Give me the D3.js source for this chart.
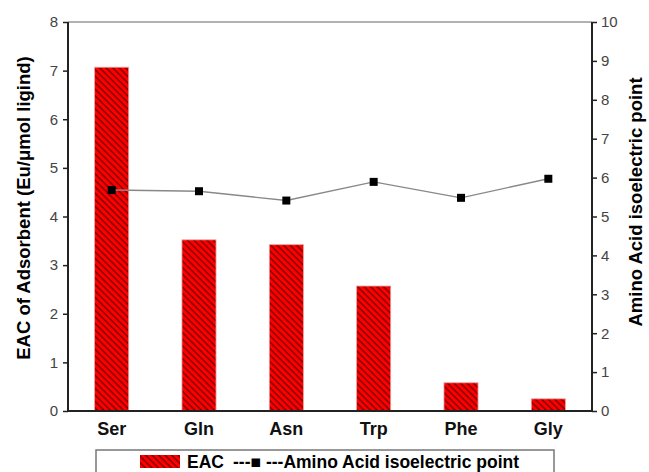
<!DOCTYPE html>
<html>
<head>
<meta charset="utf-8">
<script src="https://cdn.jsdelivr.net/npm/d3@7"></script>
<style>
  body { margin: 0; background: #fff; }
  svg { font-family: "Liberation Sans", Arial, sans-serif; }
</style>
</head>
<body>
<div class="chart"></div>
<script>
const categories = ['Ser', 'Gln', 'Asn', 'Trp', 'Phe', 'Gly'];
const eacValues = [7.07, 3.52, 3.42, 2.57, 0.58, 0.25];
const pIValues = [5.68, 5.65, 5.41, 5.89, 5.48, 5.97];
const leftTicks = [0, 1, 2, 3, 4, 5, 6, 7, 8];
const rightTicks = [0, 1, 2, 3, 4, 5, 6, 7, 8, 9, 10];

const width = 649, height = 472;
const m = { left: 68, right: 57, top: 22, bottom: 61 };
const w = width - m.left - m.right;
const h = height - m.top - m.bottom;

const svg = d3.select('.chart').append('svg')
    .attr('width', width)
    .attr('height', height);

// hatch fill for bars
const defs = svg.append('defs');
const pat = defs.append('pattern')
    .attr('id', 'hatch')
    .attr('patternUnits', 'userSpaceOnUse')
    .attr('width', 4.6).attr('height', 4.6)
    .attr('patternTransform', 'rotate(45)');
pat.append('rect').attr('width', 4.6).attr('height', 4.6).attr('fill', '#ff0000');
pat.append('line').attr('x1', 0).attr('y1', 0.8).attr('x2', 4.6).attr('y2', 0.8)
    .attr('stroke', '#400000').attr('stroke-width', 1.0);

const chart = svg.append('g').attr('transform', `translate(${m.left},${m.top})`);

const x = d3.scaleBand().domain(categories).range([0, w])
    .paddingInner(0.61).paddingOuter(0.305);
const yL = d3.scaleLinear().domain([0, 8]).range([h, 0]);
const yR = d3.scaleLinear().domain([0, 10]).range([h, 0]);

// top frame line
chart.append('line').attr('x1', 0).attr('x2', w).attr('y1', 0).attr('y2', 0)
    .attr('stroke', '#999').attr('stroke-width', 1.5);

/* bars */
chart.selectAll('.bar')
    .data(eacValues)
    .enter().append('rect')
    .attr('class', 'bar')
    .attr('x', (d, i) => x(categories[i]))
    .attr('y', d => yL(d))
    .attr('width', x.bandwidth())
    .attr('height', d => h - yL(d))
    .attr('fill', 'url(#hatch)')
    .attr('stroke', '#e8a0a0')
    .attr('stroke-width', 0.8);

/* pI line */
const line = d3.line()
    .x((d, i) => x(categories[i]) + x.bandwidth() / 2)
    .y(d => yR(d));
chart.append('path').datum(pIValues)
    .attr('d', line)
    .attr('fill', 'none')
    .attr('stroke', '#888')
    .attr('stroke-width', 1.4);
chart.selectAll('.pt')
    .data(pIValues)
    .enter().append('rect')
    .attr('class', 'pt')
    .attr('x', (d, i) => x(categories[i]) + x.bandwidth() / 2 - 4)
    .attr('y', d => yR(d) - 4)
    .attr('width', 8).attr('height', 8)
    .attr('fill', '#000');

/* axes */
const axL = chart.append('g')
    .call(d3.axisLeft(yL).tickValues(leftTicks).tickSize(5).tickPadding(5));
const axR = chart.append('g').attr('transform', `translate(${w},0)`)
    .call(d3.axisRight(yR).tickValues(rightTicks).tickSize(5).tickPadding(4));
const axB = chart.append('g').attr('transform', `translate(0,${h})`)
    .call(d3.axisBottom(x).tickSize(0).tickPadding(11));
[axL, axR, axB].forEach(a => {
    a.attr('font-family', null);
    a.select('.domain').attr('stroke', '#222').attr('stroke-width', 2);
    a.selectAll('.tick line').attr('stroke', '#222').attr('stroke-width', 1.5);
});
axL.selectAll('.tick text').style('font-size', '15px').style('fill', '#444');
axR.selectAll('.tick text').style('font-size', '15px').style('fill', '#444');
axB.select('.domain').attr('d', `M0,0H${w}`);
axL.select('.domain').attr('d', `M0,${h}V0`);
axR.select('.domain').attr('d', `M0,${h}V0`);
axB.selectAll('.tick text')
    .style('font-size', '18px').style('font-weight', 'bold').style('fill', '#111');

/* axis titles */
svg.append('text')
    .attr('transform', 'translate(30,208) rotate(-90)')
    .attr('text-anchor', 'middle')
    .style('font-size', '18.5px').style('font-weight', 'bold')
    .text('EAC of Adsorbent (Eu/μmol ligind)');
svg.append('text')
    .attr('transform', 'translate(642,202) rotate(-90)')
    .attr('text-anchor', 'middle')
    .style('font-size', '18.5px').style('font-weight', 'bold')
    .text('Amino Acid isoelectric point');

/* legend */
const lg = svg.append('g').attr('transform', 'translate(96,450)');
lg.append('rect').attr('width', 458).attr('height', 30)
    .attr('fill', '#fff').attr('stroke', '#777').attr('stroke-width', 1.5);
lg.append('rect').attr('x', 44).attr('y', 5).attr('width', 40).attr('height', 13)
    .attr('fill', 'url(#hatch)');
lg.append('text').attr('x', 91).attr('y', 18)
    .style('font-size', '17.5px').style('font-weight', 'bold').text('EAC');
lg.append('text').attr('x', 137).attr('y', 18)
    .style('font-size', '17.5px').style('font-weight', 'bold')
    .text('---\u25A0 ---Amino Acid isoelectric point');
</script>
</body>
</html>
